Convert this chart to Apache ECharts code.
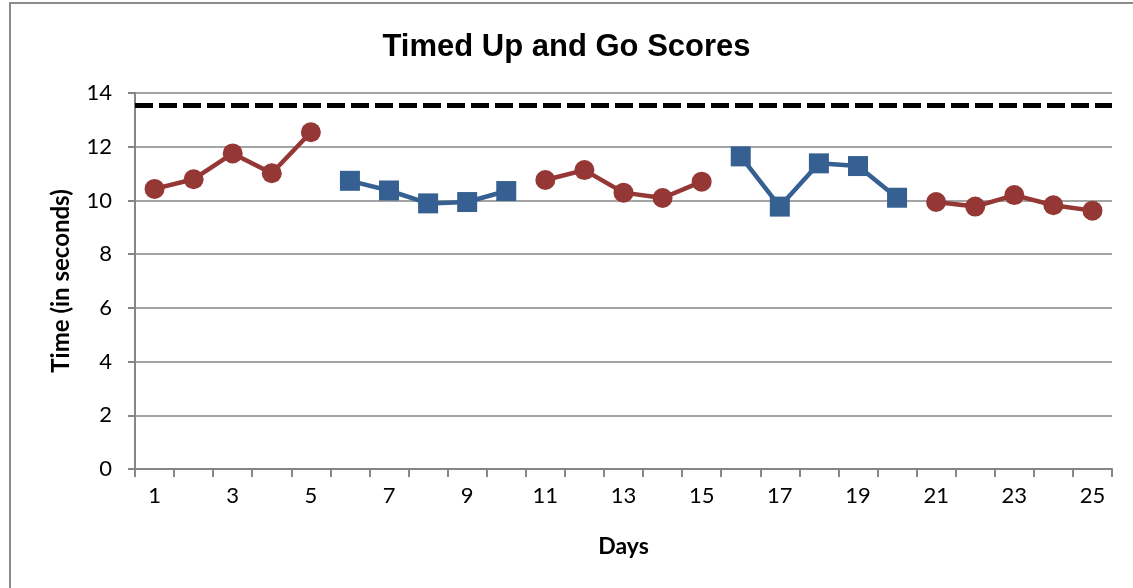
<!DOCTYPE html>
<html>
<head>
<meta charset="utf-8">
<script src="https://cdn.jsdelivr.net/npm/echarts@6/dist/echarts.min.js"></script>
<style>
  html, body { margin: 0; padding: 0; background: #fff; overflow: hidden; }
  #frame { position: absolute; left: 9px; top: 2px; width: 1140px; height: 600px; border: 2px solid #8c8c8c; box-sizing: border-box; }
  #chart { position: absolute; left: 0; top: 0; width: 1133px; height: 588px; }
</style>
</head>
<body>
<div id="frame"></div>
<div id="chart"></div>
<script>
  // days 1..25
  var days = ['1','2','3','4','5','6','7','8','9','10','11','12','13','14','15','16','17','18','19','20','21','22','23','24','25']
  // red phases (days 1-5, 11-15, 21-25)
  var redTimes = [10.43, 10.79, 11.75, 11.01, 12.54, null, null, null, null, null,
    10.76, 11.13, 10.29, 10.09, 10.70, null, null, null, null, null,
    9.94, 9.77, 10.20, 9.82, 9.62]
  // blue phases (days 6-10, 16-20)
  var blueTimes = [null, null, null, null, null, 10.73, 10.37, 9.89, 9.94, 10.35,
    null, null, null, null, null, 11.64, 9.77, 11.38, 11.28, 10.10,
    null, null, null, null, null]
  var cutoff = 13.54
  var yTicks = [0, 2, 4, 6, 8, 10, 12, 14]

  var font = 'Lato, "Open Sans", sans-serif'
  var mychart = echarts.init(document.getElementById('chart'))
  var options = {
    animation: false,
    title: {
      text: 'Timed Up and Go Scores',
      left: 'center',
      top: 27,
      textStyle: { fontFamily: '"Liberation Sans", Arial, sans-serif', fontWeight: 'bold', fontSize: 31, color: '#000' }
    },
    grid: { left: 135, right: 21, top: 93, bottom: 119 },
    xAxis: {
      type: 'category',
      data: days,
      boundaryGap: true,
      name: 'Days',
      nameLocation: 'middle',
      nameGap: 66,
      nameTextStyle: { fontFamily: font, fontWeight: 'bold', fontSize: 23, color: '#000' },
      axisLine: { lineStyle: { color: '#868686', width: 2 } },
      axisTick: { show: true, interval: 0, length: 8, lineStyle: { color: '#868686', width: 2 } },
      axisLabel: { interval: 1, margin: 16, fontFamily: font, fontSize: 22, color: '#000' },
      splitLine: { show: false }
    },
    yAxis: {
      type: 'value',
      min: yTicks[0],
      max: yTicks[yTicks.length - 1],
      interval: 2,
      name: 'Time (in seconds)',
      nameLocation: 'middle',
      nameGap: 62,
      nameTextStyle: { fontFamily: font, fontWeight: 'bold', fontSize: 24, color: '#000' },
      axisLine: { show: true, lineStyle: { color: '#868686', width: 2 } },
      axisTick: { show: true, length: 7, lineStyle: { color: '#868686', width: 2 } },
      axisLabel: { margin: 23, fontFamily: font, fontSize: 22, color: '#000' },
      splitLine: { show: true, lineStyle: { color: '#868686', width: 1.5 } }
    },
    series: [
      {
        name: 'red',
        type: 'line',
        data: redTimes,
        connectNulls: false,
        symbol: 'circle',
        symbolSize: 20,
        itemStyle: { color: '#953735' },
        lineStyle: { color: '#953735', width: 4.5 },
        markLine: {
          silent: true,
          symbol: ['none', 'none'],
          label: { show: false },
          lineStyle: { color: '#000', width: 5, type: [18, 6] },
          data: [{ yAxis: cutoff }]
        }
      },
      {
        name: 'blue',
        type: 'line',
        data: blueTimes,
        connectNulls: false,
        symbol: 'rect',
        symbolSize: 20,
        itemStyle: { color: '#376092' },
        lineStyle: { color: '#376092', width: 4.5 }
      }
    ]
  }
  mychart.setOption(options)
</script>
</body>
</html>
